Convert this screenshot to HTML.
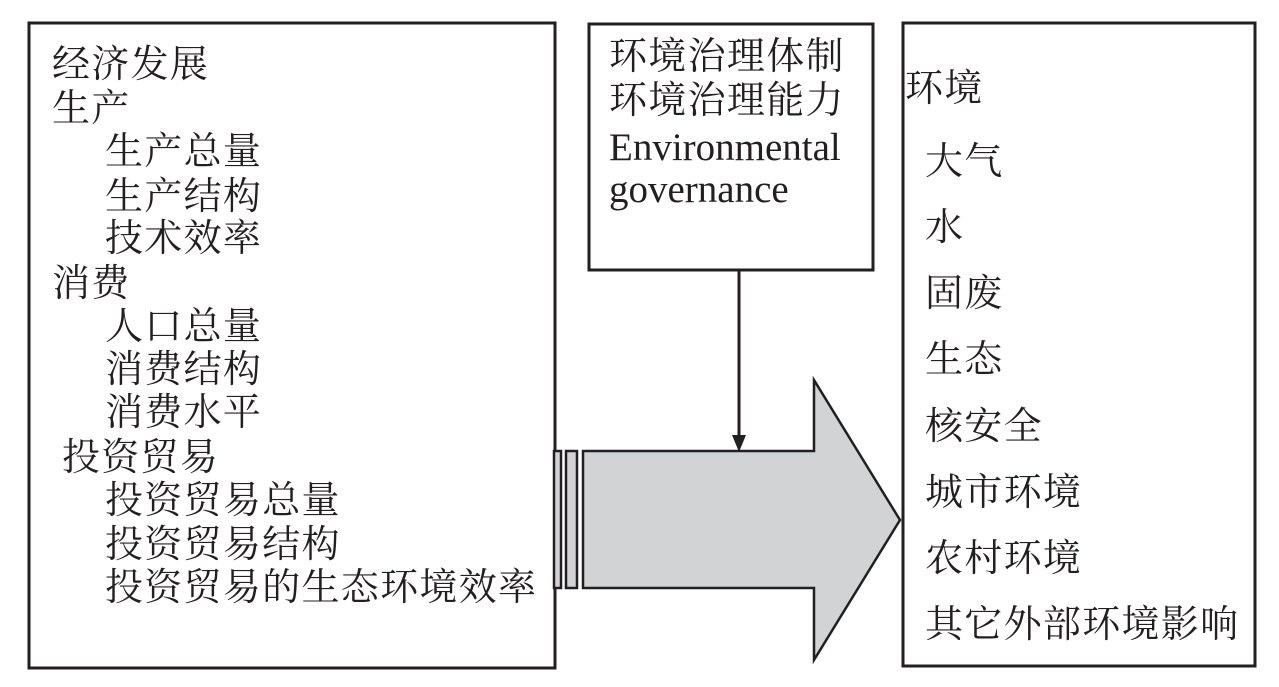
<!DOCTYPE html>
<html><head><meta charset="utf-8"><style>
body{margin:0;width:1279px;height:687px;background:#fff;position:relative;overflow:hidden;font-family:"Liberation Serif","Noto Serif CJK SC",serif;color:#231f20}
.t{position:absolute;font-size:38px;letter-spacing:1.3px;line-height:1;white-space:nowrap}
.e{letter-spacing:0;font-size:39px}
</style></head><body>
<svg width="1279" height="687" style="position:absolute;left:0;top:0">
<g fill="none" stroke="#231f20" stroke-width="3">
<rect x="29" y="23" width="526" height="645"/>
<rect x="589" y="24" width="284" height="246"/>
<rect x="903" y="23" width="352" height="643"/>
</g>
<line x1="739" y1="270" x2="739" y2="440" stroke="#231f20" stroke-width="3"/>
<polygon points="732,435 746,435 739,452" fill="#231f20"/>
<g fill="#d1d3d4" stroke="#231f20" stroke-width="2.5">
<rect x="554" y="451" width="7" height="137"/>
<rect x="566" y="451" width="11" height="137"/>
<polygon points="583,451 814,451 814,380 900,520 814,660 814,588 583,588"/>
</g>
</svg>
<div class="t" style="left:52px;top:46px">经济发展</div>
<div class="t" style="left:52px;top:90px">生产</div>
<div class="t" style="left:105px;top:133px">生产总量</div>
<div class="t" style="left:105px;top:178px">生产结构</div>
<div class="t" style="left:105px;top:220px">技术效率</div>
<div class="t" style="left:52px;top:265px">消费</div>
<div class="t" style="left:105px;top:308px">人口总量</div>
<div class="t" style="left:105px;top:351px">消费结构</div>
<div class="t" style="left:105px;top:394px">消费水平</div>
<div class="t" style="left:62px;top:439px">投资贸易</div>
<div class="t" style="left:105px;top:482px">投资贸易总量</div>
<div class="t" style="left:105px;top:526px">投资贸易结构</div>
<div class="t" style="left:105px;top:569px">投资贸易的生态环境效率</div>
<div class="t" style="left:609px;top:38px">环境治理体制</div>
<div class="t" style="left:609px;top:82px">环境治理能力</div>
<div class="t e" style="left:609px;top:128px">Environmental</div>
<div class="t e" style="left:609px;top:170px">governance</div>
<div class="t" style="left:905px;top:70px">环境</div>
<div class="t" style="left:925px;top:143px">大气</div>
<div class="t" style="left:925px;top:209px">水</div>
<div class="t" style="left:925px;top:275px">固废</div>
<div class="t" style="left:925px;top:341px">生态</div>
<div class="t" style="left:925px;top:408px">核安全</div>
<div class="t" style="left:925px;top:474px">城市环境</div>
<div class="t" style="left:925px;top:540px">农村环境</div>
<div class="t" style="left:925px;top:606px">其它外部环境影响</div>
</body></html>
